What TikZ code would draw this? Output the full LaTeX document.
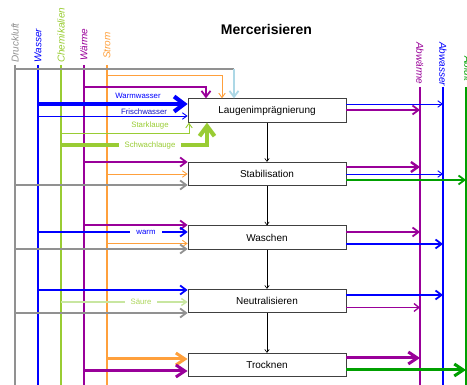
\documentclass[tikz,border=0pt]{standalone}
\usepackage{fontspec}
\setmainfont{Liberation Sans}
\usetikzlibrary{arrows.meta}

\definecolor{cGray}{RGB}{145,145,145}
\definecolor{cBlue}{RGB}{0,0,255}
\definecolor{cNavy}{RGB}{20,20,200}
\definecolor{cChem}{RGB}{153,204,51}
\definecolor{cHeat}{RGB}{153,0,153}
\definecolor{cPower}{RGB}{255,160,60}
\definecolor{cAir}{RGB}{173,216,230}
\definecolor{cOut}{RGB}{0,160,0}
\definecolor{cAcid}{RGB}{200,230,160}

\begin{document}
\begin{tikzpicture}[x=1pt,y=-1pt,
  stage/.style={draw=black!75, line width=0.8pt, fill=white,
    minimum width=158pt, minimum height=23.5pt, inner sep=0pt,
    font=\fontsize{10}{11}\selectfont},
  feedline/.style={line width=1.8pt},
  medialabel/.style={font=\itshape\fontsize{10}{11}\selectfont, inner sep=0pt},
  taglabel/.style={font=\fontsize{7.8}{8}\selectfont, inner sep=1pt},
  cutlabel/.style={taglabel, fill=white, inner xsep=6pt, inner ysep=1pt},
  thinflow/.style={line width=0.9pt, -{Straight Barb[length=4.5pt,width=6.5pt]}},
  midflow/.style={line width=1.8pt, -{Straight Barb[length=6pt,width=9pt]}},
  boldflow/.style={line width=3pt, -{Straight Barb[length=9pt,width=12pt]}},
  heavyflow/.style={line width=4.2pt, -{Straight Barb[length=10pt,width=15pt]}},
  stepflow/.style={line width=0.6pt, -{Straight Barb[length=3pt,width=4.5pt]}}
]
\useasboundingbox (0,0) rectangle (467,385);
\clip (0,0) rectangle (467,385);

% title
\node[font=\bfseries\fontsize{14}{15}\selectfont] (title) at (266.5,29) {Mercerisieren};

% supply lines (left)
\coordinate (pAir) at (15,65);
\coordinate (pWater) at (38,65);
\coordinate (pChem) at (61,65);
\coordinate (pHeat) at (84,65);
\coordinate (pPower) at (107,65);
\draw[feedline, cGray] (pAir) -- (pAir |- 0,390);
\draw[feedline, cBlue] (pWater) -- (pWater |- 0,390);
\draw[feedline, cChem] (pChem) -- (pChem |- 0,390);
\draw[feedline, cHeat] (pHeat) -- (pHeat |- 0,390);
\draw[feedline, cPower] (pPower) -- (pPower |- 0,390);
\node[medialabel, text=cGray, rotate=90, anchor=west] (lAir) at (15,63) {Druckluft};
\node[medialabel, text=cBlue, rotate=90, anchor=west] (lWater) at (38,63) {Wasser};
\node[medialabel, text=cChem, rotate=90, anchor=west] (lChem) at (61,63) {Chemikalien};
\node[medialabel, text=cHeat, rotate=90, anchor=west] (lHeat) at (84,61) {Wärme};
\node[medialabel, text=cPower, rotate=90, anchor=west] (lPower) at (107,59) {Strom};

% disposal lines (right)
\coordinate (dHeat) at (420,87);
\coordinate (dWater) at (443,87);
\coordinate (dAir) at (466,87);
\draw[feedline, cHeat] (dHeat) -- (dHeat |- 0,390);
\draw[feedline, cBlue] (dWater) -- (dWater |- 0,390);
\draw[feedline, cOut] (dAir) -- (dAir |- 0,390);
\node[medialabel, text=cHeat, rotate=-90, anchor=west] (lWaste1) at (420,42) {Abwärme};
\node[medialabel, text=cBlue, rotate=-90, anchor=west] (lWaste2) at (443,42) {Abwasser};
\node[medialabel, text=cOut, rotate=-90, anchor=west] (lWaste3) at (468,56) {Abluft};

% process stages
\node[stage] (s1) at (267,110.5) {Laugenimprägnierung};
\node[stage] (s2) at (267,174) {Stabilisation};
\node[stage] (s3) at (267,237.5) {Waschen};
\node[stage] (s4) at (267,301) {Neutralisieren};
\node[stage] (s5) at (267,365) {Trocknen};
\draw[stepflow] (s1) -- (s2);
\draw[stepflow] (s2) -- (s3);
\draw[stepflow] (s3) -- (s4);
\draw[stepflow] (s4) -- (s5);

% Laugenimpraegnierung
\draw[cGray, line width=1.8pt] (pAir |- 0,69) -- (234,69) coordinate (airBend);
\draw[cAir, midflow] (airBend) -- (s1.north -| airBend);
\draw[cPower, thinflow] (pPower |- 0,75) -| (s1.north -| 222,0);
\draw[cHeat, midflow] (pHeat |- 0,87) -| (s1.north -| 206,0);
\draw[cBlue, heavyflow] (pWater |- 0,104) -- (s1.west |- 0,104);
\node[taglabel, text=cBlue] (tWarmW) at (138,96) {Warmwasser};
\draw[cBlue, thinflow] (pWater |- 0,116) -- (s1.west |- 0,116);
\node[taglabel, text=cNavy] (tFrisch) at (144,112) {Frischwasser};
\draw[cChem, thinflow] (pChem |- 0,133) -| (s1.south -| 189,0);
\node[taglabel, text=cChem] (tStark) at (150,125.5) {Starklauge};
\draw[cChem, heavyflow] (pChem |- 0,145) -| (s1.south -| 207,0);
\node[cutlabel, text=cChem] (tSchwach) at (150,145) {Schwachlauge};
\draw[cBlue, thinflow] (s1.east |- 0,104) -- (dWater |- 0,104);
\draw[cHeat, midflow] (s1.east |- 0,110) -- (dHeat |- 0,110);

% Stabilisation
\draw[cHeat, midflow] (pHeat |- 0,162) -- (s2.west |- 0,162);
\draw[cPower, thinflow] (pPower |- 0,174) -- (s2.west |- 0,174);
\draw[cGray, midflow] (pAir |- 0,185) -- (s2.west |- 0,185);
\draw[cHeat, line width=2.4pt, -{Straight Barb[length=7pt,width=10pt]}] (s2.east |- 0,167) -- (dHeat |- 0,167);
\draw[cBlue, thinflow] (s2.east |- 0,174) -- (dWater |- 0,174);
\draw[cOut, midflow] (s2.east |- 0,180) -- (dAir |- 0,180);

% Waschen
\draw[cHeat, midflow] (pHeat |- 0,225) -- (s3.west |- 0,225);
\draw[cBlue, midflow] (pWater |- 0,232) -- (s3.west |- 0,232);
\node[cutlabel, text=cBlue] (tWarm) at (146,232) {warm};
\draw[cPower, thinflow] (pPower |- 0,243.5) -- (s3.west |- 0,243.5);
\draw[cGray, midflow] (pAir |- 0,249) -- (s3.west |- 0,249);
\draw[cHeat, midflow] (s3.east |- 0,232) -- (dHeat |- 0,232);
\draw[cBlue, midflow] (s3.east |- 0,244) -- (dWater |- 0,244);

% Neutralisieren
\draw[cBlue, midflow] (pWater |- 0,290) -- (s4.west |- 0,290);
\draw[cAcid, line width=1.4pt, -{Straight Barb[length=5pt,width=7pt]}] (pChem |- 0,302) -- (s4.west |- 0,302);
\node[cutlabel, text=cChem!80] (tAcid) at (141,302) {Säure};
\draw[cGray, midflow] (pAir |- 0,313) -- (s4.west |- 0,313);
\draw[cBlue, midflow] (s4.east |- 0,295) -- (dWater |- 0,295);
\draw[cHeat, line width=1.3pt, -{Straight Barb[length=5pt,width=8pt]}] (s4.east |- 0,307.5) -- (dHeat |- 0,307.5);

% Trocknen
\draw[cPower, boldflow] (pPower |- 0,359) -- (s5.west |- 0,359);
\draw[cHeat, boldflow] (pHeat |- 0,371) -- (s5.west |- 0,371);
\draw[cHeat, boldflow] (s5.east |- 0,358) -- (dHeat |- 0,358);
\draw[cOut, boldflow] (s5.east |- 0,370) -- (dAir |- 0,370);
\end{tikzpicture}
\end{document}
